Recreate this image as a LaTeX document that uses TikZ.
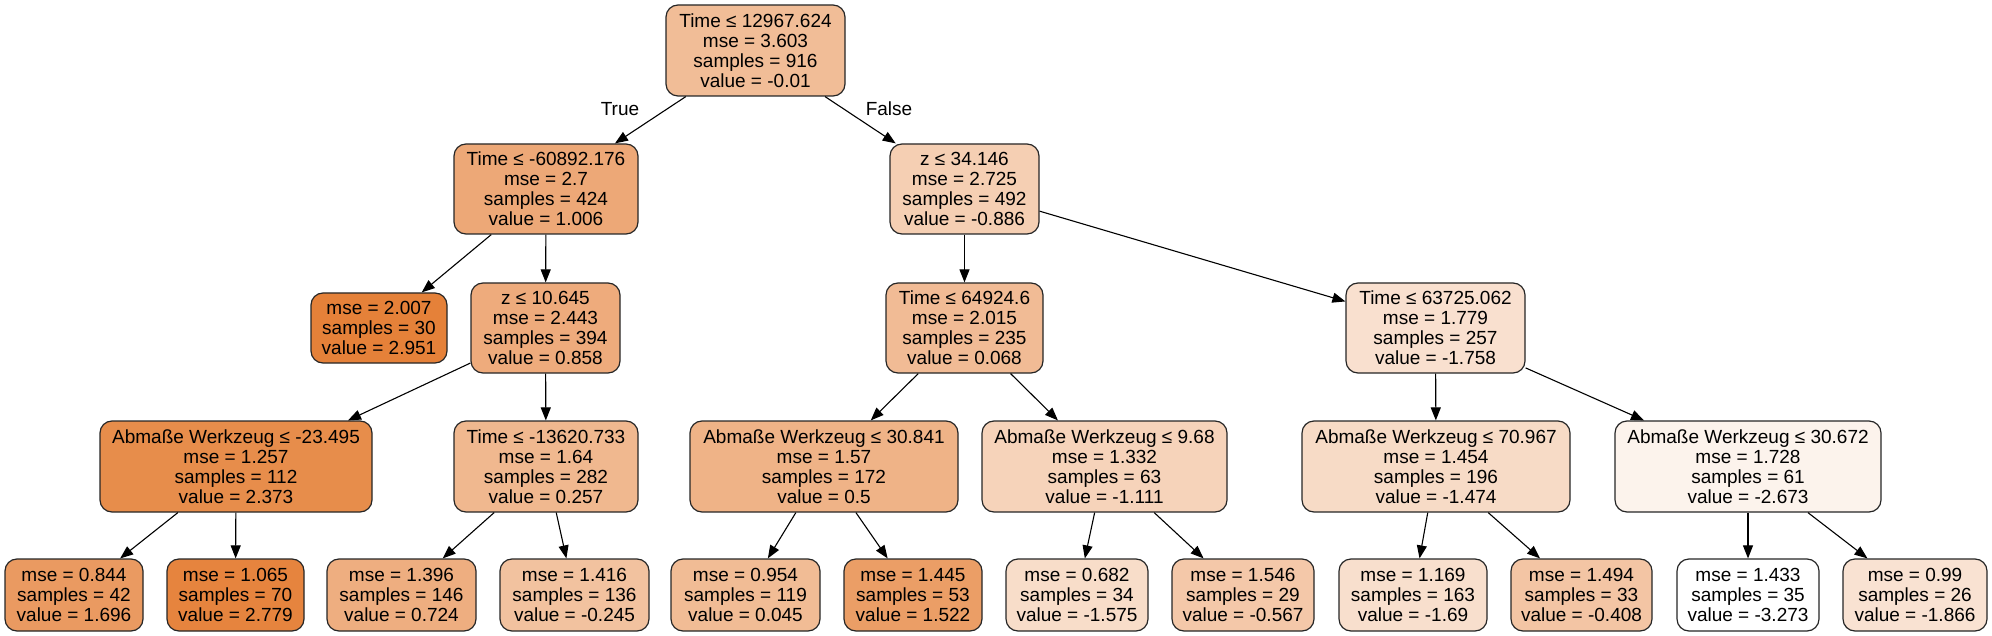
\documentclass[tikz,border=0pt]{standalone}
\usepackage{fontspec}
\setmainfont{Liberation Sans}
\usetikzlibrary{arrows.meta,calc}
\definecolor{croot}{RGB}{241,189,151}
\definecolor{cna}{RGB}{237,168,119}
\definecolor{cnb}{RGB}{245,207,179}
\definecolor{cla}{RGB}{229,129,57}
\definecolor{cnc}{RGB}{238,171,124}
\definecolor{cnd}{RGB}{241,187,149}
\definecolor{cne}{RGB}{249,224,207}
\definecolor{cnf}{RGB}{231,141,75}
\definecolor{cng}{RGB}{240,184,143}
\definecolor{cnh}{RGB}{239,179,135}
\definecolor{cni}{RGB}{246,211,186}
\definecolor{cnj}{RGB}{247,219,198}
\definecolor{cnk}{RGB}{252,243,236}
\definecolor{cl1}{RGB}{234,154,97}
\definecolor{cl2}{RGB}{230,132,62}
\definecolor{cl3}{RGB}{238,174,128}
\definecolor{cl4}{RGB}{242,194,159}
\definecolor{cl5}{RGB}{241,188,149}
\definecolor{cl6}{RGB}{235,158,102}
\definecolor{cl7}{RGB}{248,221,201}
\definecolor{cl8}{RGB}{244,200,169}
\definecolor{cl9}{RGB}{248,223,205}
\definecolor{cl10}{RGB}{243,197,164}
\definecolor{cl11}{RGB}{255,255,255}
\definecolor{cl12}{RGB}{249,226,210}
\begin{document}
\begin{tikzpicture}[x=1pt,y=-1pt,
  tn/.style={draw=black!85, line width=1.2pt, rounded corners=12pt, inner sep=0pt,
    align=center, font=\fontsize{19}{20}\selectfont},
  inner4/.style={tn, minimum height=91pt},
  leaf/.style={tn, minimum height=72pt},
  lbl/.style={font=\fontsize{19}{20}\selectfont, inner sep=0pt},
  ed/.style={-{Triangle[length=13pt,width=10pt]}, line width=1.1pt, draw=black}]
\useasboundingbox (0,0) rectangle (1992,636);
% level 0
\node[inner4, fill=croot, minimum width=179pt] (root) at (755.5,50.5)
  {Time ≤ 12967.624\\mse = 3.603\\samples = 916\\value = -0.01};
% level 1
\node[inner4, fill=cna, minimum width=184pt, minimum height=90pt] (na) at (546,189)
  {Time ≤ -60892.176\\mse = 2.7\\samples = 424\\value = 1.006};
\node[inner4, fill=cnb, minimum width=149pt, minimum height=90pt] (nb) at (964.5,189)
  {z ≤ 34.146\\mse = 2.725\\samples = 492\\value = -0.886};
% level 2
\node[tn, fill=cla, minimum width=136pt, minimum height=70pt] (la) at (379,328)
  {mse = 2.007\\samples = 30\\value = 2.951};
\node[inner4, fill=cnc, minimum width=149pt, minimum height=90pt] (nc) at (545.5,328)
  {z ≤ 10.645\\mse = 2.443\\samples = 394\\value = 0.858};
\node[inner4, fill=cnd, minimum width=157pt, minimum height=90pt] (nd) at (964.5,328)
  {Time ≤ 64924.6\\mse = 2.015\\samples = 235\\value = 0.068};
\node[inner4, fill=cne, minimum width=179pt, minimum height=90pt] (ne) at (1435.5,328)
  {Time ≤ 63725.062\\mse = 1.779\\samples = 257\\value = -1.758};
% level 3
\node[inner4, fill=cnf, minimum width=272pt] (nf) at (236,466.5)
  {Abmaße Werkzeug ≤ -23.495\\mse = 1.257\\samples = 112\\value = 2.373};
\node[inner4, fill=cng, minimum width=184pt] (ng) at (546,466.5)
  {Time ≤ -13620.733\\mse = 1.64\\samples = 282\\value = 0.257};
\node[inner4, fill=cnh, minimum width=268pt] (nh) at (824,466.5)
  {Abmaße Werkzeug ≤ 30.841\\mse = 1.57\\samples = 172\\value = 0.5};
\node[inner4, fill=cni, minimum width=245pt] (ni) at (1104.5,466.5)
  {Abmaße Werkzeug ≤ 9.68\\mse = 1.332\\samples = 63\\value = -1.111};
\node[inner4, fill=cnj, minimum width=268pt] (nj) at (1436,466.5)
  {Abmaße Werkzeug ≤ 70.967\\mse = 1.454\\samples = 196\\value = -1.474};
\node[inner4, fill=cnk, minimum width=266pt] (nk) at (1748,466.5)
  {Abmaße Werkzeug ≤ 30.672\\mse = 1.728\\samples = 61\\value = -2.673};
% level 4 leaves
\node[leaf, fill=cl1, minimum width=138pt] (l1) at (74,595)
  {mse = 0.844\\samples = 42\\value = 1.696};
\node[leaf, fill=cl2, minimum width=137pt] (l2) at (235.5,595)
  {mse = 1.065\\samples = 70\\value = 2.779};
\node[leaf, fill=cl3, minimum width=149pt] (l3) at (401.5,595)
  {mse = 1.396\\samples = 146\\value = 0.724};
\node[leaf, fill=cl4, minimum width=149pt] (l4) at (574.5,595)
  {mse = 1.416\\samples = 136\\value = -0.245};
\node[leaf, fill=cl5, minimum width=149pt] (l5) at (745.5,595)
  {mse = 0.954\\samples = 119\\value = 0.045};
\node[leaf, fill=cl6, minimum width=138pt] (l6) at (913,595)
  {mse = 1.445\\samples = 53\\value = 1.522};
\node[leaf, fill=cl7, minimum width=142pt] (l7) at (1077,595)
  {mse = 0.682\\samples = 34\\value = -1.575};
\node[leaf, fill=cl8, minimum width=142pt] (l8) at (1243,595)
  {mse = 1.546\\samples = 29\\value = -0.567};
\node[leaf, fill=cl9, minimum width=148pt] (l9) at (1413,595)
  {mse = 1.169\\samples = 163\\value = -1.69};
\node[leaf, fill=cl10, minimum width=141pt] (l10) at (1581.5,595)
  {mse = 1.494\\samples = 33\\value = -0.408};
\node[leaf, fill=cl11, minimum width=142pt] (l11) at (1748,595)
  {mse = 1.433\\samples = 35\\value = -3.273};
\node[leaf, fill=cl12, minimum width=144pt] (l12) at (1915,595)
  {mse = 0.99\\samples = 26\\value = -1.866};
% edge labels
\node[lbl] (ltrue) at (620,109) {True};
\node[lbl] (lfalse) at (889,109) {False};
% edges
\draw[ed] (root) -- (na);
\draw[ed] (root) -- (nb);
\draw[ed] (na) -- (la);
\draw[ed] (na) -- (nc);
\draw[ed] (nb) -- (nd);
\draw[ed] (nb) -- (ne);
\draw[ed] (nc) -- ($(nf.north)+(112,0)$);
\draw[ed] (nc) -- (ng);
\draw[ed] (nd) -- (nh);
\draw[ed] (nd) -- (ni);
\draw[ed] (ne) -- (nj);
\draw[ed] (ne) -- (nk);
\draw[ed] (nf) -- (l1);
\draw[ed] (nf) -- (l2);
\draw[ed] (ng) -- (l3);
\draw[ed] (ng) -- (l4);
\draw[ed] (nh) -- (l5);
\draw[ed] (nh) -- (l6);
\draw[ed] (ni) -- (l7);
\draw[ed] (ni) -- (l8);
\draw[ed] (nj) -- (l9);
\draw[ed] (nj) -- (l10);
\draw[ed] (nk) -- (l11);
\draw[ed] (nk) -- (l12);
\end{tikzpicture}
\end{document}
